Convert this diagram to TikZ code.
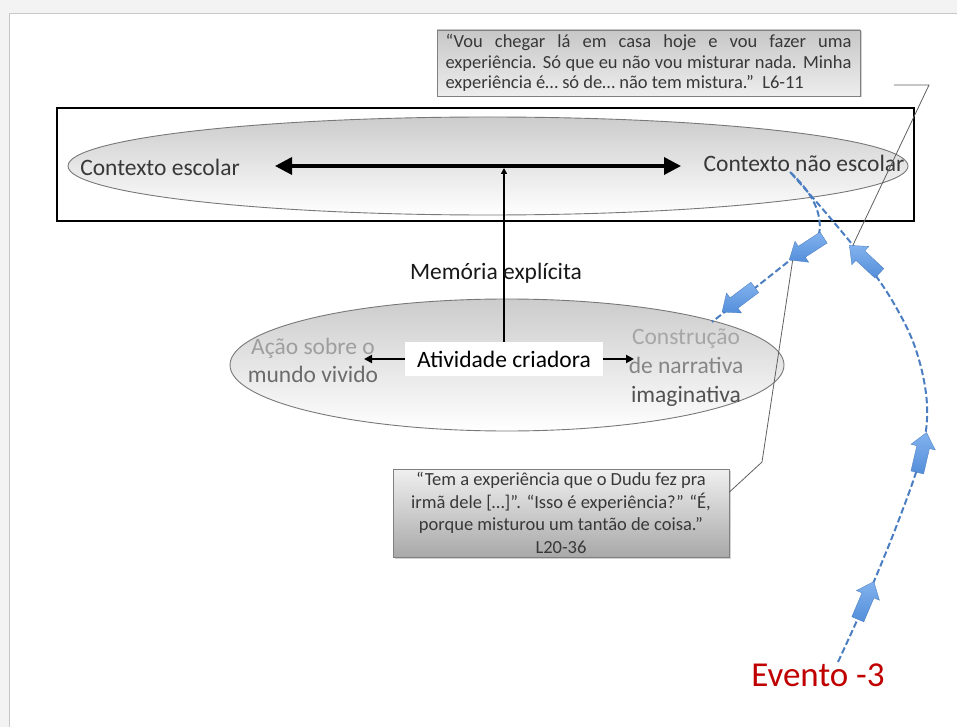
\documentclass[tikz,border=0pt]{standalone}
\usepackage{fontspec}
\setmainfont{Carlito}
\usetikzlibrary{arrows.meta,shapes.geometric,shadows}
\definecolor{dashblue}{RGB}{74,126,193}
\definecolor{blkblue}{RGB}{84,142,218}
\definecolor{blklight}{RGB}{130,178,238}
\definecolor{txtgray}{RGB}{56,56,56}
\definecolor{evred}{RGB}{192,0,0}
\definecolor{callgray}{RGB}{96,96,96}
\definecolor{bggray}{RGB}{243,243,243}
\definecolor{ellborder}{RGB}{120,120,120}
\begin{document}
\begin{tikzpicture}[x=1pt,y=-1pt,
  lbl/.style={font=\fontsize{23.5}{28}\selectfont, inner sep=0pt},
  ellnode/.style={ellipse, draw=ellborder, line width=0.9pt, top color=black!20, bottom color=white, inner sep=0pt},
  quotebox/.style={draw=black!50, line width=0.9pt, inner sep=0pt, text=txtgray,
     drop shadow={shadow xshift=1.5pt, shadow yshift=-1.5pt, opacity=0.35}},
  bluedash/.style={dashblue, line width=2pt, dash pattern=on 6.5pt off 3pt},
  callout/.style={callgray, line width=0.8pt},
  blkarrow/.pic={\shade[top color=blklight, bottom color=blkblue, draw=blkblue!85!black, line width=0.3pt]
     (-21,-6.5) -- (5,-6.5) -- (5,-12.5) -- (20,0) -- (5,12.5) -- (5,6.5) -- (-21,6.5) -- cycle;}
]
\useasboundingbox (0,0) rectangle (957,727);
% page
\fill[bggray] (0,0) rectangle (957,727);
\filldraw[fill=white, draw=black!22, line width=0.8pt] (9,13) rectangle (962,732);

% top frame and ellipse
\node[draw, line width=2pt, minimum width=857pt, minimum height=113pt, inner sep=0pt] (frame) at (485.5,164.5) {};
\node[ellnode, minimum width=840pt, minimum height=98pt] (topell) at (488,166) {};
\node[lbl, text=txtgray] (ctxE) at (160,167) {Contexto escolar};
\node[lbl, text=txtgray] (ctxNE) at (804,163) {Contexto não escolar};
\coordinate (arrL) at (275,166);
\coordinate (arrR) at (681,166);
\draw[line width=3.5pt, {Triangle[length=17pt,width=17pt]}-{Triangle[length=17pt,width=17pt]}] (arrL) -- (arrR);

% lower ellipse
\node[ellnode, minimum width=554pt, minimum height=132pt] (lowell) at (507,365) {};
\node[fill=white, minimum width=198pt, minimum height=34pt, inner sep=0pt,
      font=\fontsize{23.5}{28}\selectfont] (ativ) at (504,359) {Atividade criadora};
\node[lbl, align=center, font=\fontsize{23.5}{28}\selectfont] (acao) at (313,360)
  {{\color{black!38}Ação sobre o}\\{\color{black!58}mundo vivido}};
\node[lbl, align=center, font=\fontsize{23.5}{29}\selectfont] (constr) at (686,368)
  {{\color{black!35}Construção}\\{\color{black!48}de narrativa}\\{\color{black!68}imaginativa}};
\coordinate (aL) at (364,359);
\coordinate (aR) at (634,359);
\draw[line width=2.2pt, -{Triangle[length=8pt,width=8pt]}] (ativ.west) -- (aL);
\draw[line width=2.2pt, -{Triangle[length=8pt,width=8pt]}] (ativ.east) -- (aR);
\coordinate (vtop) at (504,168);
\draw[line width=2.2pt, -{Triangle[length=6pt,width=6pt]}] (ativ.north) -- (vtop);
\node[lbl, text=black!90] (mem) at (496,273) {Memória explícita};

% quotes
\node[quotebox, top color=black!22, bottom color=black!7, minimum width=423pt, minimum height=66pt] (q1) at (648.5,63)
  {\parbox{406pt}{\fontsize{18.5}{20.5}\selectfont “Vou chegar lá em casa hoje e vou fazer uma\linebreak experiência. Só que eu não vou misturar nada. Minha\linebreak experiência é… só de… não tem mistura.”\ \ L6-11}};
\node[quotebox, top color=black!6, bottom color=black!34, minimum width=336pt, minimum height=88pt,
      align=center, font=\fontsize{18.5}{22.5}\selectfont] (q2) at (561,513)
  {“Tem a experiência que o Dudu fez pra\\irmã dele […]”. “Isso é experiência?” “É,\\porque misturou um tantão de coisa.”\\L20-36};

% callout lines
\coordinate (c1a) at (894,85);
\coordinate (c1b) at (929,85);
\coordinate (c1c) at (853,245);
\draw[callout] (c1a) -- (c1b) -- (c1c);
\coordinate (c2b) at (762,462);
\coordinate (c2c) at (793,258);
\draw[callout] ([yshift=21pt]q2.east) -- (c2b) -- (c2c);

% event label
\node[text=evred, font=\fontsize{35}{40}\selectfont, inner sep=0pt] (ev) at (818,675) {Evento -3};

% blue dashed connectors
\coordinate (sA) at (790,172);
\coordinate (eA) at (712,322);
\draw[bluedash] (sA) .. controls (815,195) and (824,218) .. (818,238) -- (eA);
\draw[bluedash] plot[smooth, tension=0.6] coordinates {(838,662) (866,600) (898,522) (921,455) (927,405) (916,350) (893,302) (862,257) (826,213) (sA)};

% block arrows
\pic[rotate=213] at (806,249) {blkarrow};
\pic[rotate=217] at (738,300) {blkarrow};
\pic[rotate=137] at (864,259) {blkarrow};
\pic[rotate=77] at (922,452) {blkarrow};
\pic[rotate=67] at (866,600) {blkarrow};
\end{tikzpicture}
\end{document}
